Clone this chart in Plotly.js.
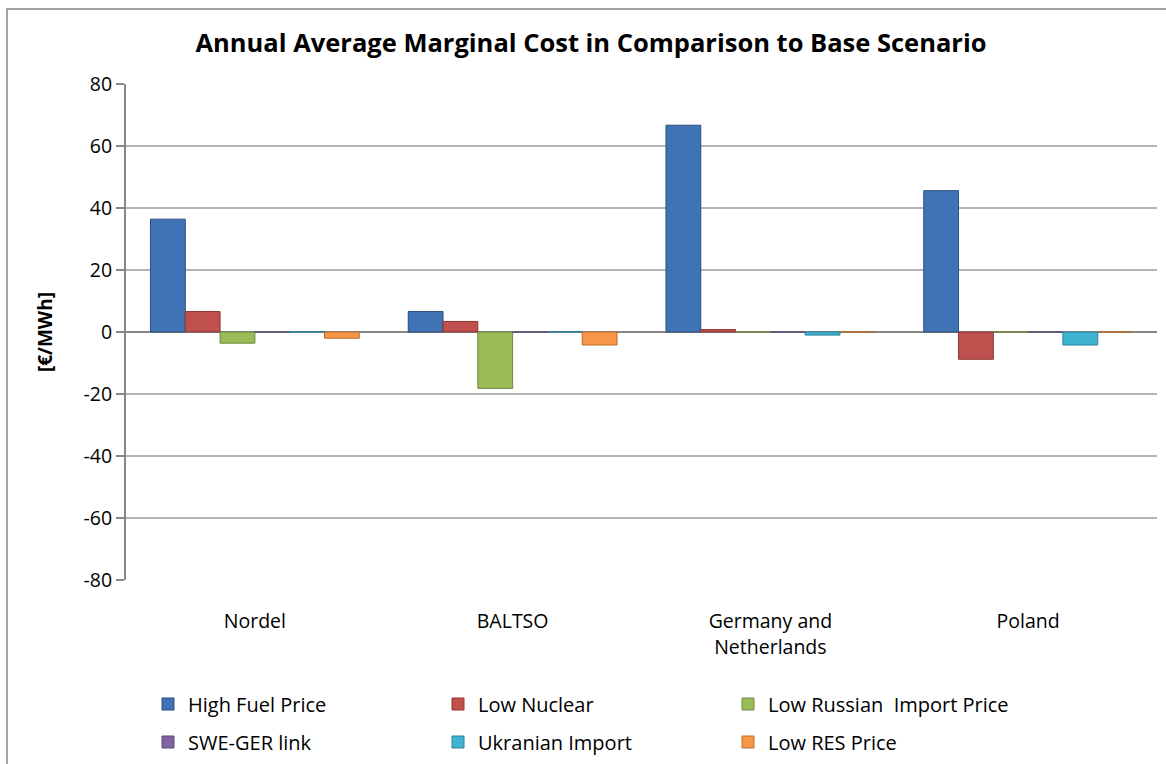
<!DOCTYPE html>
<html>
<head>
<meta charset="utf-8">
<script src="https://cdn.plot.ly/plotly-3.0.1.min.js"></script>
<style>html,body{margin:0;padding:0;background:#fff;}#chart{width:1166px;height:764px;}</style>
</head>
<body>
<div id="chart"></div>
<script>
// ---- data ----
const categories = ["Nordel", "BALTSO", "Germany and<br>Netherlands", "Poland"];
const seriesNames = ["High Fuel Price", "Low Nuclear", "Low Russian  Import Price", "SWE-GER link", "Ukranian Import", "Low RES Price"];
const highFuelPrice   = [36.4, 6.6, 66.7, 45.6];
const lowNuclear      = [6.6, 3.4, 0.8, -8.8];
const lowRussianImport= [-3.6, -18.2, 0.0, 0.15];
const sweGerLink      = [0.0, 0.0, 0.0, 0.0];
const ukranianImport  = [0.15, 0.15, -1.0, -4.2];
const lowResPrice     = [-2.0, -4.2, 0.15, 0.15];
const tickValues = [-80, -60, -40, -20, 0, 20, 40, 60, 80];

const seriesValues = [highFuelPrice, lowNuclear, lowRussianImport, sweGerLink, ukranianImport, lowResPrice];
const fills  = ["#3f73b5", "#c0504d", "#9bbb59", "#8064a2", "#3fb3d2", "#f79646"];
const lines  = ["#2b5080", "#8c3836", "#6f883e", "#5d4878", "#2c8199", "#b86c2c"];

const font = "'Open Sans', 'Liberation Sans', sans-serif";

const traces = seriesValues.map((vals, i) => ({
  type: "bar",
  name: seriesNames[i],
  x: categories,
  y: vals,
  legend: i < 3 ? "legend" : "legend2",
  marker: {color: fills[i], line: {color: lines[i], width: 1}},
  hoverinfo: "x+y+name"
}));

const L = 126, R = 1157, T = 84, B = 580;
const W = R - L, H = B - T;

const legendBase = {
  orientation: "h", x: 148/1166, xref: "container", xanchor: "left",
  yref: "container", yanchor: "middle",
  entrywidth: 245, entrywidthmode: "pixels",
  font: {family: font, size: 20, color: "#000"}, bgcolor: "rgba(0,0,0,0)", borderwidth: 0
};

const layout = {
  width: 1166, height: 764,
  margin: {l: L, r: 1166 - R, t: T, b: 764 - B, pad: 0, autoexpand: false},
  paper_bgcolor: "#ffffff",
  plot_bgcolor: "#ffffff",
  font: {family: font, size: 19, color: "#000"},
  title: {
    text: "<b>Annual Average Marginal Cost in Comparison to Base Scenario</b>",
    font: {family: font, size: 25.5, color: "#000"},
    x: 591/1166, xref: "container", xanchor: "center", y: 1 - 43/764, yanchor: "middle"
  },
  barmode: "group",
  bargap: 0.19,
  bargroupgap: 0,
  showlegend: true,
  legend: Object.assign({}, legendBase, {y: 1 - 704/764}),
  legend2: Object.assign({}, legendBase, {y: 1 - 742/764}),
  xaxis: {
    type: "category",
    showline: false, showgrid: false, zeroline: false,
    ticks: "outside", ticklen: 24, tickcolor: "rgba(0,0,0,0)",
    tickfont: {family: font, size: 19.5, color: "#000"},
    fixedrange: true
  },
  yaxis: {
    range: [-80, 80],
    tickvals: tickValues,
    ticktext: tickValues.map(String),
    showline: true, linecolor: "#868686", linewidth: 2,
    showgrid: true, gridcolor: "#b3b3b3", gridwidth: 1.5,
    zeroline: true, zerolinecolor: "#868686", zerolinewidth: 2.5,
    ticks: "outside", ticklen: 8, tickcolor: "#868686", tickwidth: 1.5,
    tickfont: {family: font, size: 19.5, color: "#000"},
    title: {text: "<b>[€/MWh]</b>", font: {family: font, size: 19, color: "#000"}, standoff: 26},
    fixedrange: true
  },
  shapes: [{
    type: "rect", xref: "paper", yref: "paper",
    x0: (7 - L) / W, x1: (1200 - L) / W, y0: (B - 800) / H, y1: (B - 9) / H,
    line: {color: "#868686", width: 1.5}, fillcolor: "rgba(0,0,0,0)", layer: "below"
  }]
};

Plotly.newPlot("chart", traces, layout, {displayModeBar: false, staticPlot: true});
</script>
</body>
</html>
